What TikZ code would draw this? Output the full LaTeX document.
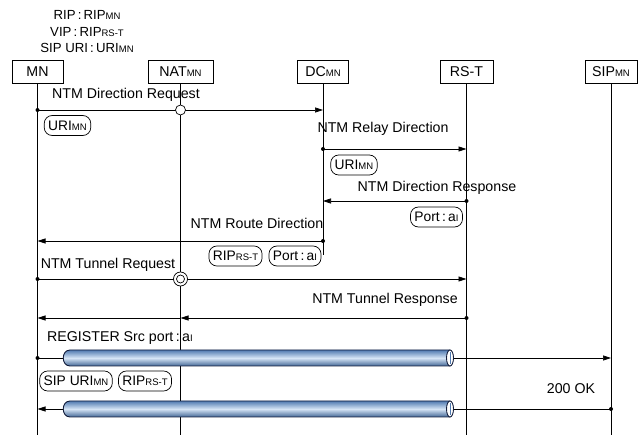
\documentclass[tikz,border=0pt]{standalone}
\usepackage{fontspec}
\setmainfont{Liberation Sans}
\usetikzlibrary{arrows.meta}
\newcommand{\sbs}[1]{{\fontsize{9.5}{10}\selectfont #1}}
\definecolor{pipedark}{RGB}{80,122,176}
\definecolor{pipelight}{RGB}{214,229,246}
\definecolor{pipeline}{RGB}{20,30,60}
\begin{document}
\begin{tikzpicture}[x=1pt,y=-1pt,
  every node/.style={font=\fontsize{14.2}{16}\selectfont},
  head/.style={draw, line width=0.7pt, minimum height=23pt, inner sep=0pt, fill=white},
  life/.style={line width=0.7pt},
  msg/.style={line width=0.7pt, -{Triangle[length=8pt,width=5pt]}},
  tag/.style={draw, line width=0.7pt, rounded corners=8pt, inner xsep=4pt, inner ysep=0pt, minimum height=20pt, font=\fontsize{13.8}{15}\selectfont},
  lbl/.style={inner sep=0pt, anchor=base},
  toplbl/.style={inner sep=0pt, anchor=base, font=\fontsize{13.2}{14}\selectfont},
  dot/.style={circle, fill, inner sep=0pt, minimum size=4pt},
  ring/.style={circle, draw, fill=white, line width=0.7pt, inner sep=0pt}]

\useasboundingbox (0,0) rectangle (643,435);

% top labels
\node[toplbl] (t1) at (87,20) {RIP\,:\,RIP\sbs{MN}};
\node[toplbl] (t2) at (87,37) {VIP\,:\,RIP\sbs{RS-T}};
\node[toplbl] (t3) at (87,53) {SIP URI\,:\,URI\sbs{MN}};

% heads
\node[head, minimum width=51pt] (mn) at (37.5,72) {MN};
\node[head, minimum width=65pt] (nat) at (180.5,72) {NAT\sbs{MN}};
\node[head, minimum width=51pt] (dc) at (323,72) {DC\sbs{MN}};
\node[head, minimum width=53pt] (rst) at (466.5,72) {RS-T};
\node[head, minimum width=52pt] (sip) at (611,72) {SIP\sbs{MN}};

% lifelines
\coordinate (mnE) at (37.5,435);
\coordinate (natE) at (180.5,435);
\coordinate (dcE) at (323,255);
\coordinate (rstE) at (466.5,435);
\coordinate (sipE) at (611,435);
\draw[life] (mn.south) -- (mnE);
\draw[life] (nat.south) -- (natE);
\draw[life] (dc.south) -- (dcE);
\draw[life] (rst.south) -- (rstE);
\draw[life] (sip.south) -- (sipE);

% message coordinates
\coordinate (mn1) at (37.5,110); \coordinate (nat1) at (180.5,110); \coordinate (dc1) at (323,110);
\coordinate (dc2) at (323,149); \coordinate (rst2) at (466.5,149);
\coordinate (rst3) at (466.5,201); \coordinate (dc3) at (323,201);
\coordinate (dc4) at (323,241); \coordinate (mn4) at (37.5,241);
\coordinate (mn5) at (37.5,279); \coordinate (nat5) at (180.5,279); \coordinate (rst5) at (466.5,279);
\coordinate (rst6) at (466.5,318); \coordinate (nat6) at (180.5,318); \coordinate (mn6) at (37.5,318);
\coordinate (mn7) at (37.5,358); \coordinate (sip7) at (611,358);
\coordinate (sip8) at (611,409); \coordinate (mn8) at (37.5,409);

% 1 NTM Direction Request
\node[lbl] (l1) at (126,99) {NTM Direction Request};
\draw[msg] (mn1) -- (dc1);
\node[dot] (d1) at (mn1) {};
\node[ring, minimum size=10pt] (c1) at (nat1) {};
\node[tag] (g1) at (67.5,125.5) {URI\sbs{MN}};

% 2 NTM Relay Direction
\node[lbl] (l2) at (383,133) {NTM Relay Direction};
\draw[msg] (dc2) -- (rst2);
\node[dot] (d2) at (dc2) {};
\node[tag] (g2) at (354,165) {URI\sbs{MN}};

% 3 NTM Direction Response
\node[lbl] (l3) at (437,192) {NTM Direction Response};
\draw[msg] (rst3) -- (dc3);
\node[dot] (d3) at (rst3) {};
\node[tag] (g3) at (436.5,217) {Port\,:\,a\sbs{I}};

% 4 NTM Route Direction
\node[lbl] (l4) at (257,229) {NTM Route Direction};
\draw[msg] (dc4) -- (mn4);
\node[dot] (d4) at (dc4) {};
\node[tag] (g4) at (235.5,256) {RIP\sbs{RS-T}};
\node[tag] (g5) at (295,256) {Port\,:\,a\sbs{I}};

% 5 NTM Tunnel Request
\node[lbl] (l5) at (108,269) {NTM Tunnel Request};
\draw[msg] (mn5) -- (rst5);
\node[dot] (d5) at (mn5) {};
\node[ring, minimum size=14pt] (c5) at (nat5) {};
\node[ring, minimum size=8pt] (c5i) at (nat5) {};

% 6 NTM Tunnel Response
\node[lbl] (l6) at (385,304) {NTM Tunnel Response};
\draw[msg] (rst6) -- (nat6);
\draw[msg] (nat6) -- (mn6);
\node[dot] (d6) at (rst6) {};

% 7 REGISTER
\node[lbl, anchor=base west] (l7) at (47,342) {REGISTER Src port\,:\,a\sbs{I}};
\draw[msg] (mn7) -- (sip7);
\node[dot] (d7) at (mn7) {};
\node[tag] (g6) at (76,381) {SIP URI\sbs{MN}};
\node[tag] (g7) at (145,381) {RIP\sbs{RS-T}};

% 8 200 OK
\node[lbl] (l8) at (571,394) {200 OK};
\draw[msg] (sip8) -- (mn8);
\node[dot] (d8) at (sip8) {};

% pipes
\foreach \py in {358,409} {
  \shade[draw=pipeline, line width=0.9pt, top color=pipedark, bottom color=pipedark!85!black, middle color=pipelight]
    (70,\py-8) -- (450,\py-8) -- (450,\py+8) -- (70,\py+8)
    .. controls (61,\py+8) and (61,\py-8) .. (70,\py-8) -- cycle;
  \draw[pipeline, fill=white, line width=0.9pt] (450,\py) ellipse [x radius=3.5, y radius=8];
  \draw[pipedark, line width=0.6pt] (450,\py-6) -- (450,\py+6);
}
\end{tikzpicture}
\end{document}
